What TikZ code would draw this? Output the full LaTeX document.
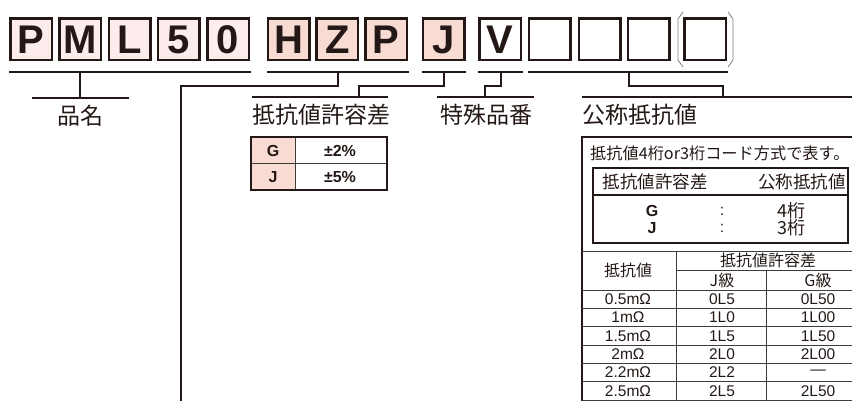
\documentclass[tikz,border=0pt]{standalone}
\usepackage{fontspec}
\setmainfont{Liberation Sans}
\newfontfamily\jpfont{Noto Sans CJK JP}
\definecolor{ink}{HTML}{231815}
\definecolor{grid}{HTML}{3C3C3C}
\definecolor{pinklt}{HTML}{FCEDEC}
\definecolor{pinkmd}{HTML}{F8DBD3}

\tikzset{
  codebox/.style={draw=ink, line width=2.5pt, minimum size=41.5pt, inner sep=0pt,
    text=ink, font=\fontsize{40}{40}\selectfont\bfseries},
  uline/.style={ink, line width=2.4pt},
  conn/.style={ink, line width=2.2pt},
  lbl/.style={text=ink, inner sep=0pt, font=\jpfont\fontsize{23}{23}\selectfont},
  cell/.style={text=ink, inner sep=0pt, font=\fontsize{15.5}{15.5}\selectfont},
  bcell/.style={text=ink, inner sep=0pt, font=\fontsize{16}{16}\selectfont\bfseries},
  jcell/.style={text=ink, inner sep=0pt, font=\jpfont\fontsize{16}{16}\selectfont},
}

\begin{document}
\begin{tikzpicture}[x=1pt, y=-1pt]
        \useasboundingbox (0,0) rectangle (852,401);
        % code boxes
        \foreach \c [count=\i from 0] in {P,M,L,5,0}
          \node[codebox, fill=pinklt] (pm\i) at (31+49.25*\i, 39.5) {\c};
        \foreach \c [count=\i from 0] in {H,Z,P}
          \node[codebox, fill=pinkmd] (hz\i) at (288.5+48.75*\i, 39.5) {\c};
        \node[codebox, fill=pinkmd] (tol) at (443.5, 39.5) {J};
        \node[codebox, fill=white] (spc) at (500, 39.5) {V};
        \node[codebox] (rv0) at (549.5, 39.5) {};
        \node[codebox] (rv1) at (599.5, 39.5) {};
        \node[codebox] (rv2) at (648.5, 39.5) {};
        \node[codebox] (rv3) at (705, 39.5) {};
        \draw[gray, line width=0.8pt] (683,12) -- (678,19) -- (678,60) -- (683,67);
        \draw[gray, line width=0.8pt] (728,12) -- (733,19) -- (733,60) -- (728,67);

        % underlines
        \draw[uline] (9,72) -- (251,72);
        \draw[uline] (267,72) -- (409,72);
        \draw[uline] (422,72) -- (466,72);
        \draw[uline] (478,72) -- (523,72);
        \draw[uline] (528,72) -- (728,72);

        % connectors
        \coordinate (tP) at (80,72);  \coordinate (bP) at (80,98);
        \coordinate (tH) at (338,72); \coordinate (bH) at (181,402);
        \coordinate (tJ) at (444,72); \coordinate (bJ) at (359,97);
        \coordinate (tV) at (501,72); \coordinate (bV) at (485,97);
        \coordinate (tR) at (629,72); \coordinate (bR) at (723,97);
        \draw[conn] (tP) -- (bP);
        \draw[conn] (tH) -- ++(0,14) -| (bH);
        \draw[conn] (tJ) -- ++(0,14) -| (bJ);
        \draw[conn] (tV) -- ++(0,14) -| (bV);
        \draw[conn] (tR) -- ++(0,14) -| (bR);
        \draw[uline] (32,98) -- (129,98);
        \draw[uline] (252,97) -- (388,97);
        \draw[uline] (437,97) -- (534,97);
        \draw[uline] (582,97) -- (852,97);

        % labels
        \node[lbl] (hinmei) at (80,116) {品名};
        \node[lbl] (kyoyo) at (321,115) {抵抗値許容差};
        \node[lbl] (tokusyu) at (486,115) {特殊品番};
        \node[lbl, anchor=west] (kosho) at (582,115) {公称抵抗値};

        % tolerance table
        \fill[pinkmd] (251,137) rectangle (295,190);
        \draw[grid, line width=0.8pt] (251,163.5) -- (387,163.5);
        \draw[grid, line width=0.8pt] (295,137) -- (295,190);
        \draw[ink, line width=2pt] (251,137) rectangle (387,190);
        \node[bcell] (tg) at (273,151) {G};
        \node[bcell] (tj) at (273,177) {J};
        \node[bcell] (pg) at (340,151) {±2\%};
        \node[bcell] (pj) at (340,177) {±5\%};

        % resistance code box
        \draw[ink, line width=1.4pt] (852,137) -- (582,137) -- (582,402);
        \node[jcell, anchor=west, font=\jpfont\fontsize{16.2}{16.2}\selectfont] (note) at (590,153)
          {抵抗値4桁or3桁コード方式で表す。};
        \draw[ink, line width=2pt] (593,168) rectangle (848,243);
        \draw[ink, line width=1.2pt] (593,195) -- (848,195);
        \node[jcell, font=\jpfont\fontsize{17.5}{17.5}\selectfont] (hk) at (655,182) {抵抗値許容差};
        \node[jcell, font=\jpfont\fontsize{17.5}{17.5}\selectfont] (hv) at (802,182) {公称抵抗値};
        \node[bcell] (cg) at (652,211) {G};
        \node[bcell] (cj) at (652,228) {J};
        \node[cell] (k1) at (722,211) {:};
        \node[cell] (k2) at (722,228) {:};
        \node[jcell, font=\jpfont\fontsize{18}{18}\selectfont] (d4) at (791,211) {4桁};
        \node[jcell, font=\jpfont\fontsize{18}{18}\selectfont] (d3) at (791,228) {3桁};

        % code list
        \draw[grid, line width=0.8pt] (582,251) -- (852,251);
        \draw[grid, line width=0.8pt] (676,270) -- (852,270);
        \draw[grid, line width=0.8pt] (676,251) -- (676,400);
        \draw[grid, line width=0.8pt] (766,270) -- (766,400);
        \foreach \k in {0,...,6}
          \draw[grid, line width=0.8pt] (582,290+18.33*\k) -- (852,290+18.33*\k);
        \node[jcell] (rh) at (628,270) {抵抗値};
        \node[jcell] (th) at (768,260) {抵抗値許容差};
        \node[jcell] (jh) at (722,280.5) {J級};
        \node[jcell] (gh) at (818,280.5) {G級};
        \foreach \r/\j/\g [count=\k from 0] in {0.5mΩ/0L5/0L50, 1mΩ/1L0/1L00, 1.5mΩ/1L5/1L50,
            2mΩ/2L0/2L00, 2.2mΩ/2L2/—, 2.5mΩ/2L5/2L50} {
          \node[cell] (r\k) at (628,299.2+18.33*\k) {\r};
          \node[cell] (j\k) at (722,299.2+18.33*\k) {\j};
          \node[cell] (g\k) at (818,299.2+18.33*\k) {\g};
        }
    \end{tikzpicture}
\end{document}
